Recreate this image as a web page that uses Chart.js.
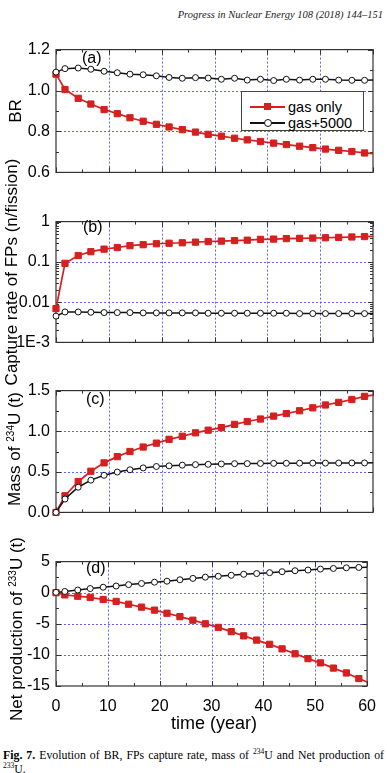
<!DOCTYPE html>
<html>
<head>
<meta charset="utf-8">
<script src="https://cdn.jsdelivr.net/npm/chart.js@4/dist/chart.umd.min.js"></script>
<style>
  body { margin: 0; background: #fff; width: 387px; height: 773px; position: relative; overflow: hidden;
         font-family: 'Liberation Sans', Arial, sans-serif; color: #000; }
  canvas { position: absolute; left: 0; }
  .yt { position: absolute; white-space: nowrap; font-size: 17px; transform: translate(-50%, -50%) rotate(-90deg); }
  .yt sup { font-size: 10px; }
  .lbl { position: absolute; font-size: 16px; white-space: nowrap; }
  #legend { position: absolute; left: 241px; top: 91px; width: 121px; height: 38px; border: 1px solid #444; background: #fff; }
  #legend span { position: absolute; }
  #legend .txt { left: 46px; font-size: 14.5px; line-height: 16px; }
  .cap { position: absolute; left: 3px; width: 381px; font-family: 'Liberation Serif', serif; font-size: 11.8px;
         line-height: 14px; white-space: nowrap; }
</style>
</head>
<body>
<div style="position:absolute;right:4px;top:9px;font:italic 10.5px 'Liberation Serif',serif;color:#222;">Progress in Nuclear Energy 108 (2018) 144–151</div>

<canvas id="chartA" width="387" height="154" style="top:34px"></canvas>
<canvas id="chartB" width="387" height="152" style="top:206px"></canvas>
<canvas id="chartC" width="387" height="153" style="top:375px"></canvas>
<canvas id="chartD" width="387" height="180" style="top:546px"></canvas>

<div class="yt" style="left:16px;top:111px">BR</div>
<div class="yt" style="left:12px;top:272px">Capture rate of FPs (n/fission)</div>
<div class="yt" style="left:15px;top:449px">Mass of <sup>234</sup>U (t)</div>
<div class="yt" style="left:17px;top:629px">Net production of <sup>233</sup>U (t)</div>
<div style="position:absolute;left:214px;top:723px;transform:translate(-50%,-50%);font-size:18px;white-space:nowrap">time (year)</div>

<div class="lbl" style="left:82px;top:49px">(a)</div>
<div class="lbl" style="left:83px;top:218px">(b)</div>
<div class="lbl" style="left:86px;top:390px">(c)</div>
<div class="lbl" style="left:86px;top:559px">(d)</div>

<div id="legend">
  <span style="left:8px;top:14px;width:35px;height:2px;background:#d61f1f"></span>
  <span style="left:22px;top:11px;width:7px;height:7px;background:#d61f1f"></span>
  <span class="txt" style="top:7px">gas only</span>
  <span style="left:8px;top:30px;width:35px;height:1.5px;background:#111"></span>
  <span style="left:22px;top:27px;width:6px;height:6px;border:1px solid #111;border-radius:50%;background:#fff"></span>
  <span class="txt" style="top:23px">gas+5000</span>
</div>

<div class="cap" style="top:745px;text-align:justify;text-align-last:justify"><b>Fig. 7.</b> Evolution of BR, FPs capture rate, mass of <sup style="font-size:7.5px">234</sup>U and Net production of</div>
<div class="cap" style="top:759px"><sup style="font-size:7.5px">233</sup>U.</div>

<script>
// time points of the markers (last value = end of the curve, no marker)
const years = [0, 1.7, 4.2, 6.6, 9.1, 11.6, 14.0, 16.5, 19.0, 21.4, 23.9, 26.4, 28.8,
               31.3, 33.8, 36.2, 38.7, 41.2, 43.6, 46.1, 48.6, 51.0, 53.5, 56.0, 58.4, 60];

// (a) BR
const brGasOnly = [1.08, 1.005, 0.962, 0.934, 0.907, 0.887, 0.867, 0.850, 0.835, 0.822, 0.809, 0.797, 0.786,
                   0.777, 0.767, 0.759, 0.751, 0.743, 0.736, 0.728, 0.721, 0.714, 0.708, 0.702, 0.695, 0.692];
const brGas5000 = [1.09, 1.107, 1.11, 1.104, 1.094, 1.087, 1.08, 1.077, 1.072, 1.064, 1.06, 1.063, 1.061,
                   1.055, 1.06, 1.051, 1.055, 1.049, 1.055, 1.051, 1.055, 1.055, 1.051, 1.05, 1.05, 1.052];

// (b) capture rate of FPs
const capGasOnly = [0.0069, 0.092, 0.144, 0.179, 0.207, 0.227, 0.253, 0.267, 0.282, 0.29, 0.298, 0.309, 0.32,
                    0.328, 0.338, 0.346, 0.362, 0.368, 0.378, 0.384, 0.39, 0.397, 0.405, 0.415, 0.425, 0.43];
const capGas5000 = [0.0045, 0.0057, 0.0057, 0.0056, 0.0055, 0.0055, 0.0055, 0.0054, 0.0054, 0.0054, 0.0054, 0.0054, 0.0053,
                    0.0053, 0.0053, 0.0053, 0.0053, 0.0053, 0.0053, 0.0052, 0.0052, 0.0052, 0.0052, 0.0052, 0.0052, 0.0052];

// (c) mass of U-234
const massGasOnly = [0, 0.205, 0.38, 0.507, 0.61, 0.687, 0.75, 0.805, 0.853, 0.9, 0.938, 0.98, 1.013,
                     1.044, 1.084, 1.119, 1.15, 1.186, 1.217, 1.252, 1.288, 1.323, 1.355, 1.39, 1.429, 1.445];
const massGas5000 = [0, 0.165, 0.31, 0.397, 0.457, 0.497, 0.525, 0.548, 0.565, 0.573, 0.582, 0.588, 0.592,
                     0.597, 0.6, 0.601, 0.603, 0.604, 0.605, 0.606, 0.607, 0.607, 0.608, 0.609, 0.609, 0.61];

// (d) net production of U-233
const netGasOnly = [0, -0.35, -0.57, -0.75, -1.09, -1.4, -1.85, -2.32, -2.8, -3.3, -3.85, -4.42, -5.0,
                    -5.58, -6.26, -6.94, -7.62, -8.3, -9.03, -9.82, -10.6, -11.28, -12.12, -12.9, -13.8, -14.35];
const netGas5000 = [0.05, 0.2, 0.43, 0.67, 0.88, 1.07, 1.3, 1.48, 1.69, 1.85, 2.08, 2.3, 2.5,
                    2.64, 2.8, 2.96, 3.08, 3.22, 3.38, 3.53, 3.64, 3.8, 3.9, 4.0, 4.06, 4.1];

// tick values / labels
const yearTicks = [0, 10, 20, 30, 40, 50, 60];
const brTicks = [0.6, 0.8, 1.0, 1.2];
const capTicks = [0.001, 0.01, 0.1, 1];
const capLabels = ['1E-3', '0.01', '0.1', '1'];
const massTicks = [0, 0.5, 1.0, 1.5];
const netTicks = [-15, -10, -5, 0, 5];

const RED = '#d61f1f';
const BLACK = '#111';
const tickFont = { family: 'Liberation Sans', size: 16 };

function midpoints(arr) {
  const out = [];
  for (let i = 0; i < arr.length - 1; i++) out.push((arr[i] + arr[i + 1]) / 2);
  return out;
}

// box, blue dotted grid and inward ticks (Origin style)
const framePlugin = {
  id: 'frame',
  beforeDatasetsDraw(chart, args, opts) {
    const { ctx, chartArea: a, scales: { x, y } } = chart;
    ctx.save();
    ctx.strokeStyle = 'rgba(60,60,255,0.8)';
    ctx.lineWidth = 1;
    ctx.setLineDash([2, 2]);
    ctx.beginPath();
    opts.xGrid.forEach(v => {
      const px = Math.round(x.getPixelForValue(v)) + 0.5;
      ctx.moveTo(px, a.top); ctx.lineTo(px, a.bottom);
    });
    opts.yGrid.forEach(v => {
      const py = Math.round(y.getPixelForValue(v)) + 0.5;
      ctx.moveTo(a.left, py); ctx.lineTo(a.right, py);
    });
    ctx.stroke();
    ctx.setLineDash([]);

    ctx.strokeStyle = '#333';
    ctx.lineWidth = 1.2;
    ctx.strokeRect(a.left, a.top, a.right - a.left, a.bottom - a.top);

    ctx.lineWidth = 1;
    ctx.beginPath();
    const xt = (vals, len) => vals.forEach(v => {
      const px = Math.round(x.getPixelForValue(v)) + 0.5;
      ctx.moveTo(px, a.bottom); ctx.lineTo(px, a.bottom - len);
      ctx.moveTo(px, a.top); ctx.lineTo(px, a.top + len);
    });
    const yt = (vals, len) => vals.forEach(v => {
      const py = Math.round(y.getPixelForValue(v)) + 0.5;
      ctx.moveTo(a.left, py); ctx.lineTo(a.left + len, py);
      ctx.moveTo(a.right, py); ctx.lineTo(a.right - len, py);
    });
    xt(yearTicks, 5);
    xt(midpoints(yearTicks), 3);
    yt(opts.yMajor, 5);
    yt(opts.yMinor, 3);
    ctx.stroke();
    ctx.restore();
  }
};

function series(values, black) {
  const last = years.length - 1;
  return {
    data: years.map((t, i) => ({ x: t, y: values[i] })),
    borderColor: black ? BLACK : RED,
    borderWidth: black ? 1.5 : 1.7,
    backgroundColor: black ? '#fff' : RED,
    pointBackgroundColor: black ? '#fff' : RED,
    pointBorderColor: black ? BLACK : RED,
    pointBorderWidth: 1,
    pointStyle: black ? 'circle' : 'rect',
    pointRadius: ctx => ctx.dataIndex === last ? 0 : (black ? 3 : 4.4),
    tension: 0,
    clip: false
  };
}

function makePanel(id, axisH, showX, yScale, gasOnly, gas5000, frame) {
  return new Chart(document.getElementById(id), {
    type: 'line',
    data: { datasets: [series(gas5000, true), series(gasOnly, false)] },
    options: {
      responsive: false,
      animation: false,
      events: [],
      layout: { padding: { top: 12, right: 14, left: 0, bottom: 0 } },
      plugins: { legend: { display: false }, tooltip: { enabled: false }, frame: frame },
      scales: {
        x: {
          type: 'linear', min: 0, max: 60,
          grid: { display: false, drawTicks: false }, border: { display: false },
          afterBuildTicks: s => { s.ticks = yearTicks.map(v => ({ value: v })); },
          afterFit: s => { s.height = axisH; },
          ticks: { display: showX, padding: 11, maxRotation: 0, autoSkip: false, color: '#000', font: tickFont }
        },
        y: Object.assign({
          grid: { display: false, drawTicks: false }, border: { display: false },
          afterFit: s => { s.width = 56; }
        }, yScale)
      }
    },
    plugins: [framePlugin]
  });
}

const xGrid = [10, 20, 30, 40, 50];

makePanel('chartA', 12, false, {
  type: 'linear', min: 0.6, max: 1.2,
  afterBuildTicks: s => { s.ticks = brTicks.map(v => ({ value: v })); },
  ticks: { padding: 6, color: '#000', font: tickFont, callback: v => v.toFixed(1) }
}, brGasOnly, brGas5000, { xGrid, yGrid: [0.8, 1.0], yMajor: brTicks, yMinor: midpoints(brTicks) });

const capMinor = [];
capTicks.slice(0, -1).forEach(d => { for (let k = 2; k <= 9; k++) capMinor.push(d * k); });

makePanel('chartB', 12, false, {
  type: 'logarithmic', min: 0.001, max: 1,
  afterBuildTicks: s => { s.ticks = capTicks.map(v => ({ value: v })); },
  ticks: { padding: 6, color: '#000', font: tickFont,
           callback: v => capLabels[capTicks.indexOf(v)] ?? '' }
}, capGasOnly, capGas5000, { xGrid, yGrid: [0.01, 0.1], yMajor: capTicks, yMinor: capMinor });

makePanel('chartC', 12, false, {
  type: 'linear', min: 0, max: 1.5,
  afterBuildTicks: s => { s.ticks = massTicks.map(v => ({ value: v })); },
  ticks: { padding: 6, color: '#000', font: tickFont, callback: v => v.toFixed(1) }
}, massGasOnly, massGas5000, { xGrid, yGrid: [0.5, 1.0], yMajor: massTicks, yMinor: midpoints(massTicks) });

makePanel('chartD', 40, true, {
  type: 'linear', min: -15, max: 5,
  afterBuildTicks: s => { s.ticks = netTicks.map(v => ({ value: v })); },
  ticks: { padding: 6, color: '#000', font: tickFont, callback: v => String(v) }
}, netGasOnly, netGas5000, { xGrid, yGrid: [-10, -5, 0], yMajor: netTicks, yMinor: midpoints(netTicks) });
</script>
</body>
</html>
